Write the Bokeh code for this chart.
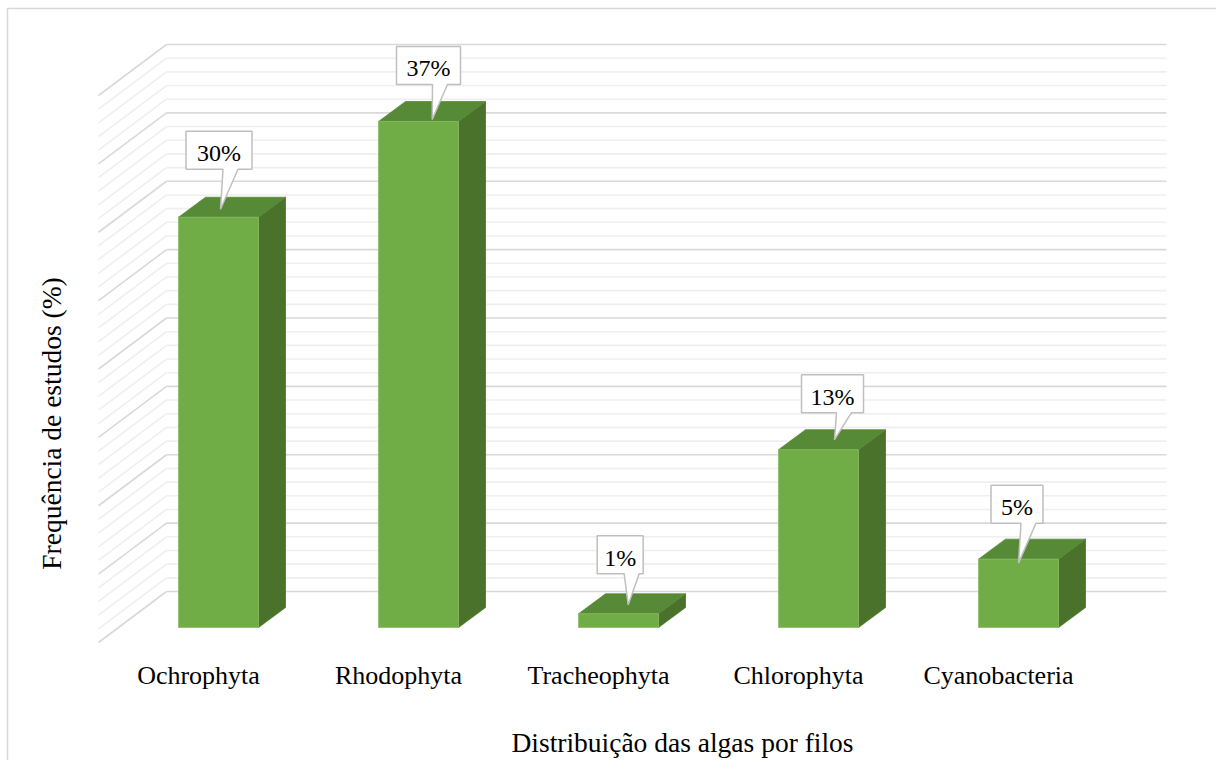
from bokeh.plotting import figure
from bokeh.models import Range1d
from bokeh.embed import file_html
from bokeh.resources import INLINE
from bokeh.core.properties import value

# ---------------- data ----------------
categories = ["Ochrophyta", "Rhodophyta", "Tracheophyta", "Chlorophyta", "Cyanobacteria"]
frequencies = [30, 37, 1, 13, 5]
value_labels = ["30%", "37%", "1%", "13%", "5%"]
axis_max = 40
major_step = 5
minor_step = 1
x_title = "Distribuição das algas por filos"
y_title = "Frequência de estudos (%)"

# ---------------- layout / style ----------------
W, H = 1216, 760
PX_PER_CAT = 200.0
PX_PER_PCT = 547.0 / axis_max
ORIGIN_X_PX, ORIGIN_Y_PX = 218.0, 627.0   # (category 0, 0 %) on the bar front plane

x0 = -ORIGIN_X_PX / PX_PER_CAT
x1 = x0 + W / PX_PER_CAT
y1 = ORIGIN_Y_PX / PX_PER_PCT
y0 = y1 - H / PX_PER_PCT


def dx(px):
    return px / PX_PER_CAT


def dy(px):
    return px / PX_PER_PCT


def X(px):
    return x0 + px / PX_PER_CAT


def Y(py):
    return y1 - py / PX_PER_PCT


BACK = (dx(48), dy(36))          # back wall offset from bar front plane
FRONT = (dx(-20), dy(-15))       # floor front offset from bar front plane
DEPTH = (dx(27), dy(20))         # bar depth
HALF = 0.2                       # half bar width (category units)

FONT = value("Liberation Serif")
BASE_FIX = 0.36                  # svg baseline correction (fraction of font size)
FRONT_COL = "#70ad47"
TOP_COL = "#578a36"
SIDE_COL = "#4a722b"
MAJOR_COL = "#d9d9d9"
MINOR_COL = "#efefef"

p = figure(width=W, height=H, x_range=Range1d(x0, x1), y_range=Range1d(y0, y1),
           output_backend="svg", toolbar_location=None,
           x_axis_location=None, y_axis_location=None,
           min_border=0, min_border_left=0, min_border_right=0,
           min_border_top=0, min_border_bottom=0)
p.grid.visible = False
p.outline_line_color = None
p.background_fill_color = "white"
p.border_fill_color = "white"

# chart border
p.line(x=[X(7), X(7), X(W + 20)], y=[Y(H + 20), Y(8), Y(8)],
       line_color=MAJOR_COL, line_width=1.5)

# ---------------- walls ----------------
n = len(categories)
left_back = -0.5 + BACK[0]
right_back = n - 0.5 + BACK[0]
left_front = -0.5 + FRONT[0]
for kind, col in (("minor", MINOR_COL), ("major", MAJOR_COL)):
    levels = [k for k in range(0, axis_max + 1, minor_step)
              if (k % major_step == 0) == (kind == "major")]
    bx0 = [left_back] * len(levels)
    bx1 = [right_back] * len(levels)
    by = [k + BACK[1] for k in levels]
    p.segment(x0=bx0, y0=by, x1=bx1, y1=by, line_color=col, line_width=1.6)
    fx = [left_front] * len(levels)
    fy = [k + FRONT[1] for k in levels]
    p.segment(x0=bx0, y0=by, x1=fx, y1=fy, line_color=col, line_width=1.6)

# ---------------- bars ----------------
side_xs, side_ys, top_xs, top_ys = [], [], [], []
for i, v in enumerate(frequencies):
    l, r = i - HALF, i + HALF
    side_xs.append([r, r, r + DEPTH[0], r + DEPTH[0]])
    side_ys.append([0, v, v + DEPTH[1], DEPTH[1]])
    top_xs.append([l, r, r + DEPTH[0], l + DEPTH[0]])
    top_ys.append([v, v, v + DEPTH[1], v + DEPTH[1]])
p.patches(xs=side_xs, ys=side_ys, fill_color=SIDE_COL, line_color=SIDE_COL, line_width=0.8)
p.patches(xs=top_xs, ys=top_ys, fill_color=TOP_COL, line_color=TOP_COL, line_width=0.8)
p.quad(left=[i - HALF for i in range(n)], right=[i + HALF for i in range(n)],
       bottom=[0] * n, top=frequencies, fill_color=FRONT_COL,
       line_color="#86bd62", line_width=0.8)

# ---------------- data-label callouts ----------------
label_shift = [0.5, 10, 1.7, 14, -1.5]     # px, box centre vs bar centre
label_gap = [48, 37, 40, 37, 36]           # px, bar top to box bottom
label_box_w = [66, 64, 46, 62, 52]         # px
tip_shift = [1.5, 3.7, 8, 2, 1.5]          # px, tail tip vs box centre
tip_up = [8, 2, 9, 10, -4]                 # px, tail tip above bar top
BOX_H = 38
LABEL_FS = 24

c_xs, c_ys, t_x, t_y = [], [], [], []
for i, v in enumerate(frequencies):
    cx = i + dx(label_shift[i])
    hw = dx(label_box_w[i] / 2)
    bot = v + dy(label_gap[i])
    top = bot + dy(BOX_H)
    tipx = cx + dx(tip_shift[i])
    tipy = v + dy(tip_up[i])
    c_xs.append([cx - hw, cx + hw, cx + hw, cx + dx(19), tipx, cx + dx(4), cx - hw])
    c_ys.append([top, top, bot, bot, tipy, bot, bot])
    t_x.append(cx)
    t_y.append(bot + dy(7.5 + BASE_FIX * LABEL_FS))
p.patches(xs=c_xs, ys=c_ys, fill_color="white", line_color="#bfbfbf", line_width=1.5)
p.text(x=t_x, y=t_y, text=value_labels, text_font=FONT, text_font_size=f"{LABEL_FS}px",
       text_align="center", text_baseline="alphabetic", text_color="#000000")

# ---------------- category labels & titles ----------------
CAT_FS = 26
TITLE_FS = 27.5
p.text(x=[i + FRONT[0] for i in range(n)], y=[Y(684 - BASE_FIX * CAT_FS)] * n, text=categories,
       text_font=FONT, text_font_size=f"{CAT_FS}px", text_align="center",
       text_baseline="alphabetic", text_color="#000000")
p.text(x=[X(682)], y=[Y(751.5 - BASE_FIX * TITLE_FS)], text=[x_title], text_font=FONT,
       text_font_size=f"{TITLE_FS}px", text_align="center", text_baseline="alphabetic",
       text_color="#000000")
p.text(x=[X(61 - BASE_FIX * TITLE_FS)], y=[Y(423)], text=[y_title], text_font=FONT,
       text_font_size=f"{TITLE_FS}px", text_align="center", text_baseline="alphabetic",
       angle=1.5707963, text_color="#000000")

open("out.html", "w").write(file_html(p, INLINE))
